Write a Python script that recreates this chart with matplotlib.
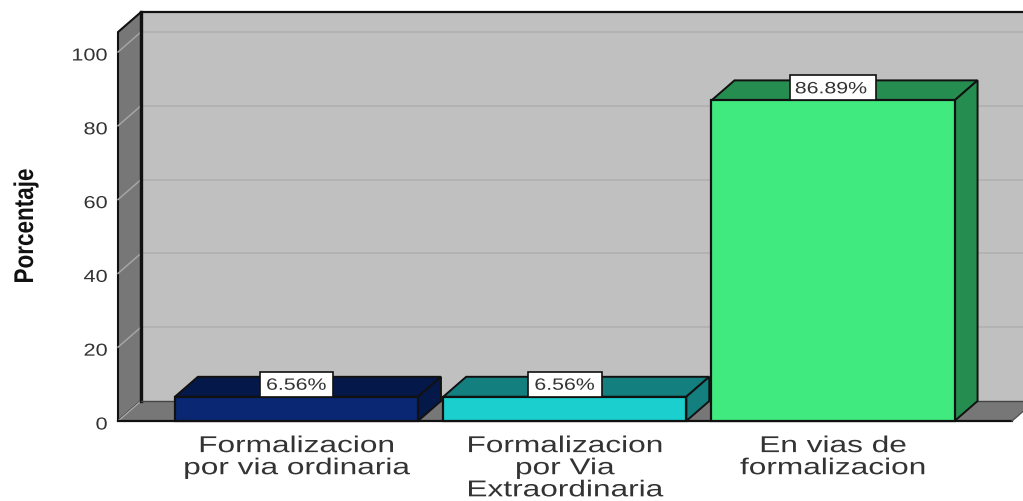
import matplotlib
matplotlib.use('Agg')
import matplotlib.pyplot as plt
from matplotlib.patches import Polygon, Rectangle
from matplotlib.patheffects import AbstractPathEffect

categories = ['Formalizacion\npor via ordinaria', 'Formalizacion\npor Via\nExtraordinaria', 'En vias de\nformalizacion']
values = [6.56, 6.56, 86.89]
value_labels = ['6.56%', '6.56%', '86.89%']
y_ticks = [0, 20, 40, 60, 80, 100]

front_colors = ['#0a2774', '#1bcfcf', '#40ea7e']
top_colors = ['#04184a', '#137f7f', '#268d50']
side_colors = ['#04184a', '#137f7f', '#268d50']

WALL = '#777777'
BACK = '#c0c0c0'
EDGE = '#111111'
TEXT = '#333333'

# 3d look: how far the back plane is shifted from the front plane (data units)
DX = 0.0857
DY = 5.42
BAR_W = 0.906
X0, X1 = -0.665, 2.667
Y_TOP = 105.4


class Stretch(AbstractPathEffect):
    # the reference text is much wider than any installed font, so stretch the glyphs
    def __init__(self, sx=1.0, sy=1.0, cx=0.0, cy=0.0, dx=0.0, dy=0.0):
        super().__init__()
        self.sx, self.sy, self.cx, self.cy = sx, sy, cx, cy
        self.dx, self.dy = dx, dy

    def draw_path(self, renderer, gc, tpath, affine, rgbFace=None):
        t = affine.frozen().translate(-self.cx, -self.cy).scale(self.sx, self.sy)
        t = t.translate(self.cx + self.dx, self.cy + self.dy)
        renderer.draw_path(gc, tpath, t, rgbFace)


def poly(ax, pts, color, z, edge=EDGE, lw=1.4):
    ax.add_patch(Polygon(pts, closed=True, facecolor=color, edgecolor=edge, lw=lw, zorder=z, clip_on=False, joinstyle='miter'))


W, H = 1023, 501
fig = plt.figure(figsize=(W / 100, H / 100), dpi=100)
ax = fig.add_axes([118 / W, (H - 421) / H, (1012 - 118) / W, 369 / H])
ax.set_xlim(X0, X1)
ax.set_ylim(0, 100)
for s in ax.spines.values():
    s.set_visible(False)
ax.patch.set_visible(False)

# walls and floor
poly(ax, [(X0 + DX, DY), (X1 + 2 * DX, DY), (X1 + 2 * DX, Y_TOP + DY), (X0 + DX, Y_TOP + DY)], BACK, 1, edge='none')
poly(ax, [(X0, 0), (X0 + DX, DY), (X0 + DX, Y_TOP + DY), (X0, Y_TOP)], WALL, 2, lw=1.5)
poly(ax, [(X0, 0), (X1, 0), (X1 + DX, DY), (X0 + DX, DY)], WALL, 2, edge='none')
ax.plot([X0 + DX, X1 + 2 * DX], [Y_TOP + DY] * 2, color=EDGE, lw=1.6, zorder=3, clip_on=False)
ax.plot([X0 + DX, X0 + DX], [DY, Y_TOP + DY], color=EDGE, lw=2.4, zorder=3, clip_on=False)
ax.plot([X0 + DX, X1 + 2 * DX], [DY, DY], color='#444444', lw=1, zorder=3, clip_on=False)
ax.plot([X0, X1], [0, 0], color=EDGE, lw=1.6, zorder=3, clip_on=False)
ax.plot([X1, X1 + DX], [0, DY], color='#555555', lw=1, zorder=3, clip_on=False)

# grid on the back wall and the left wall
for t in y_ticks[1:]:
    ax.plot([X0 + DX, X1 + 2 * DX], [t + DY, t + DY], color='#b0b0b0', lw=1.2, zorder=2, clip_on=False)
    ax.plot([X0, X0 + DX], [t, t + DY], color='#a5a5a5', lw=1.1, zorder=2.5, clip_on=False)
ax.plot([X0, X0 + DX], [0, DY], color='#a5a5a5', lw=1.1, zorder=2.5, clip_on=False)

# bars
for i, v in enumerate(values):
    l, r = i - BAR_W / 2, i + BAR_W / 2
    poly(ax, [(l, v), (r, v), (r + DX, v + DY), (l + DX, v + DY)], top_colors[i], 5)
    poly(ax, [(r, 0), (r + DX, DY), (r + DX, v + DY), (r, v)], side_colors[i], 5)
    ax.bar(i, v, width=BAR_W, color=front_colors[i], edgecolor=EDGE, lw=1.6, zorder=6, clip_on=False)

    box_w = 0.045 * len(value_labels[i]) + 0.05
    box_h = 6.8
    ax.add_patch(Rectangle((i - box_w / 2, v), box_w, box_h, facecolor='white', edgecolor=EDGE, lw=1.2, zorder=7, clip_on=False))
    cx, cy = ax.transData.transform((i, v + box_h / 2))
    ax.text(i, v + box_h / 2, value_labels[i], ha='center', va='center', color=TEXT, fontsize=11.8,
            family='Liberation Sans', zorder=8,
            path_effects=[Stretch(sx=1.3, cx=cx, cy=cy, dx=-2 if i == 2 else 0, dy=-1)])

# axis labels
ax.tick_params(length=0)
ax.set_yticks(y_ticks)
ax.set_yticklabels([str(t) for t in y_ticks], fontsize=12.5, family='Liberation Sans', color=TEXT)
ax.tick_params(axis='y', pad=7.5)
right_edge = ax.transData.transform((X0, 0))[0] - 7.5 * 100 / 72
for lab in ax.get_yticklabels():
    lab.set_path_effects([Stretch(sx=1.25, cx=right_edge, dy=-2.5)])

ax.set_xticks(range(len(categories)))
ax.set_xticklabels(categories, fontsize=16.5, family='Liberation Sans', color=TEXT, linespacing=0.95)
ax.tick_params(axis='x', pad=8)
for i, lab in enumerate(ax.get_xticklabels()):
    lab.set_path_effects([Stretch(sx=1.38, cx=ax.transData.transform((i, 0))[0], dy=-2)])

fig.text(26 / W, 1 - 226 / H, 'Porcentaje', rotation=90, ha='center', va='center', fontsize=19.5, fontweight='bold',
         family='Liberation Sans', color='#111111',
         path_effects=[Stretch(sx=1.0, sy=0.83, cx=26, cy=H - 226)])

fig.savefig('out.png', dpi=100)
